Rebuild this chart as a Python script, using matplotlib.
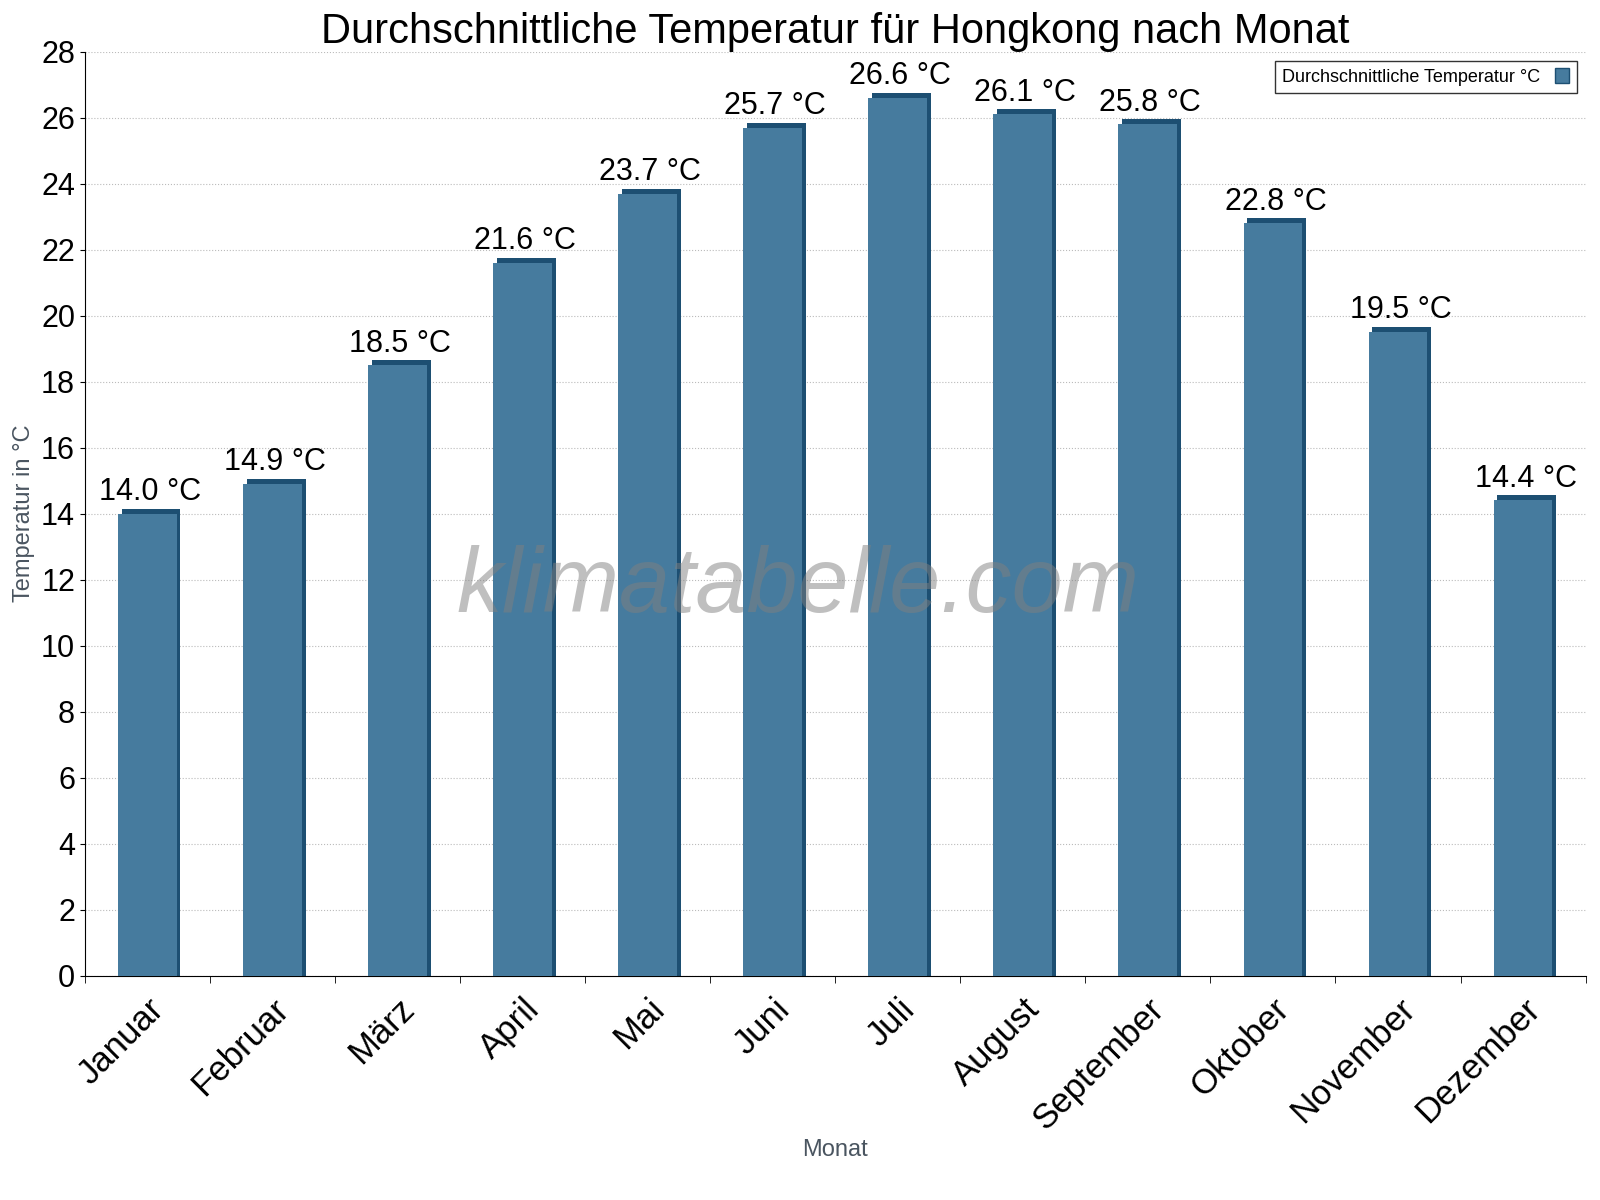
import numpy as np
import matplotlib.pyplot as plt
from matplotlib.patches import Patch

plt.rcParams['font.family'] = 'Liberation Sans'

months = ['Januar', 'Februar', 'März', 'April', 'Mai', 'Juni', 'Juli',
          'August', 'September', 'Oktober', 'November', 'Dezember']
temps = [14.0, 14.9, 18.5, 21.6, 23.7, 25.7, 26.6, 26.1, 25.8, 22.8, 19.5, 14.4]

fig = plt.figure(figsize=(16, 12), dpi=100)
ax = fig.add_axes([0.053, 0.187, 0.938, 0.77])

x = np.arange(len(months))
w = 0.47
# 3d-ish side/top shading
ax.bar(x + 0.03, np.array(temps) + 0.15, width=w, color='#1d4f72', zorder=2)
ax.bar(x, temps, width=w, color='#467b9e', zorder=3)

for xi, t in zip(x, temps):
    ax.text(xi + 0.02, t + 0.2, f'{t:.1f} °C', ha='center', va='bottom', fontsize=22, zorder=4)

ax.set_xlim(-0.5, len(months) - 0.5)
ax.set_ylim(0, 28)
ax.set_yticks(range(0, 29, 2))
ax.tick_params(axis='y', labelsize=22)
ax.set_xticks(x)
ax.set_xticklabels(months, rotation=45, ha='right', rotation_mode='anchor', fontsize=25)
ax.tick_params(axis='x', length=0, pad=12)
ax.set_xticks(np.arange(-0.5, len(months), 1), minor=True)
ax.tick_params(axis='x', which='minor', length=5)
ax.grid(axis='y', linestyle=':', color='#bbbbbb', zorder=0)
for s in ['top', 'right']:
    ax.spines[s].set_visible(False)

ax.set_title('Durchschnittliche Temperatur für Hongkong nach Monat', fontsize=30, pad=6)
ax.set_ylabel('Temperatur in °C', fontsize=17, color='#4a5560')
ax.set_xlabel('Monat', fontsize=17, color='#4a5560', labelpad=2)

ax.text(0.475, 0.42, 'klimatabelle.com', transform=ax.transAxes, fontsize=66,
        style='italic', color='#808080', alpha=0.5, ha='center', va='center', zorder=5)

ax.legend(handles=[Patch(facecolor='#467b9e', edgecolor='#1d4f72', label='Durchschnittliche Temperatur °C')],
          loc='upper right', fontsize=13, markerfirst=False, fancybox=False,
          edgecolor='black', handlelength=0.8, handleheight=0.9)

fig.savefig('out.png', dpi=100)
